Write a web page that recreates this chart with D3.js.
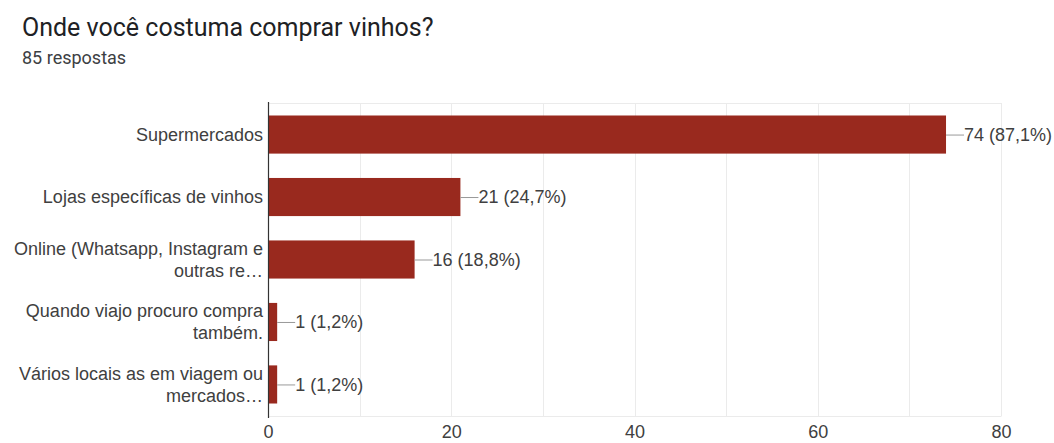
<!DOCTYPE html>
<html>
<head>
<meta charset="utf-8">
<script src="https://cdn.jsdelivr.net/npm/d3@7"></script>
<style>
  html, body { margin: 0; padding: 0; background: #fff; }
  svg { display: block; }
</style>
</head>
<body>
<svg id="chart" width="1054" height="443"></svg>
<script>
// Survey answers: "Onde você costuma comprar vinhos?"
const categories = [
  ["Supermercados"],
  ["Lojas específicas de vinhos"],
  ["Online (Whatsapp, Instagram e", "outras re…"],
  ["Quando viajo procuro compra", "também."],
  ["Vários locais as em viagem ou", "mercados…"]
];
const counts = [74, 21, 16, 1, 1];
const valueLabels = ["74 (87,1%)", "21 (24,7%)", "16 (18,8%)", "1 (1,2%)", "1 (1,2%)"];
const xTicks = [0, 20, 40, 60, 80];
const gridTicks = [10, 20, 30, 40, 50, 60, 70, 80];

const FONT = "'Liberation Sans', Arial, sans-serif";
const TEXT = "#404040";

const svg = d3.select("#chart");
const plot = { left: 268, right: 1001, top: 103, bottom: 416 };

const x = d3.scaleLinear().domain([0, 80]).range([plot.left, plot.right]);
const y = d3.scaleBand()
  .domain(d3.range(categories.length))
  .range([plot.top, plot.bottom])
  .paddingInner(0.39)
  .paddingOuter(0.2);

// Title and subtitle
svg.append("text")
  .attr("x", 22).attr("y", 36)
  .attr("font-family", "Roboto, sans-serif")
  .attr("font-size", 25)
  .attr("fill", "#202124")
  .text("Onde você costuma comprar vinhos?");
svg.append("text")
  .attr("x", 22).attr("y", 64)
  .attr("font-family", "Roboto, sans-serif")
  .attr("font-size", 18)
  .attr("fill", "#3c4043")
  .text("85 respostas");

// Gridlines and frame
const grid = svg.append("g").attr("stroke", "#ebebeb").attr("stroke-width", 1);
grid.selectAll("line.v").data(gridTicks).join("line")
  .attr("x1", d => Math.round(x(d)) + 0.5).attr("x2", d => Math.round(x(d)) + 0.5)
  .attr("y1", plot.top).attr("y2", plot.bottom);
grid.append("line")
  .attr("x1", plot.left).attr("x2", Math.round(x(80)) + 0.5)
  .attr("y1", plot.top + 0.5).attr("y2", plot.top + 0.5);
grid.append("line")
  .attr("x1", plot.left).attr("x2", Math.round(x(80)) + 0.5)
  .attr("y1", plot.bottom + 0.5).attr("y2", plot.bottom + 0.5);

// Bars
svg.append("g").selectAll("rect").data(counts).join("rect")
  .attr("x", x(0))
  .attr("y", (d, i) => y(i))
  .attr("width", d => x(d) - x(0))
  .attr("height", y.bandwidth())
  .attr("fill", "#99291e");

// Left axis line
svg.append("line")
  .attr("x1", plot.left + 0.5).attr("x2", plot.left + 0.5)
  .attr("y1", plot.top - 1).attr("y2", plot.bottom + 2)
  .attr("stroke", "#333").attr("stroke-width", 1.2);

// Value labels with leader lines
const vl = svg.append("g");
counts.forEach((d, i) => {
  const cy = y(i) + y.bandwidth() / 2;
  vl.append("line")
    .attr("x1", x(d)).attr("x2", x(d) + 18)
    .attr("y1", cy + 0.5).attr("y2", cy + 0.5)
    .attr("stroke", "#999").attr("stroke-width", 1);
  vl.append("text")
    .attr("x", x(d) + 18).attr("y", cy)
    .attr("dy", "0.35em")
    .attr("font-family", FONT)
    .attr("font-size", 18)
    .attr("fill", TEXT)
    .text(valueLabels[i]);
});

// Category labels
const cl = svg.append("g")
  .attr("font-family", FONT)
  .attr("font-size", 18)
  .attr("fill", TEXT)
  .attr("text-anchor", "end");
categories.forEach((lines, i) => {
  const cy = y(i) + y.bandwidth() / 2;
  const lh = 22;
  lines.forEach((t, j) => {
    cl.append("text")
      .attr("x", plot.left - 5)
      .attr("y", cy + (j - (lines.length - 1) / 2) * lh)
      .attr("dy", "0.35em")
      .text(t);
  });
});

// Bottom axis tick labels
const xAxis = d3.axisBottom(x).tickValues(xTicks).tickSize(0).tickPadding(9);
const ax = svg.append("g")
  .attr("transform", `translate(0,${plot.bottom})`)
  .call(xAxis);
ax.select(".domain").remove();
ax.selectAll("text")
  .attr("font-family", FONT)
  .attr("font-size", 18)
  .attr("fill", TEXT);
</script>
</body>
</html>
